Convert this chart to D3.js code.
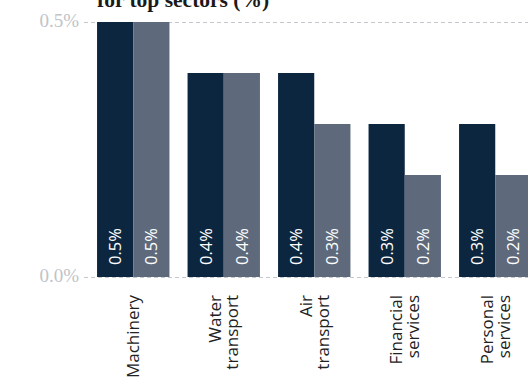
<!DOCTYPE html>
<html><head><meta charset="utf-8">
<script src="https://cdn.jsdelivr.net/npm/d3@7"></script>
<style>
html,body{margin:0;padding:0;background:#fff;overflow:hidden}
svg{display:block}
</style></head>
<body>
<svg id="chart" width="528" height="380"></svg>
<script>
const categories = ["Machinery", "Water transport", "Air transport", "Financial services", "Personal services"];
const categoryLines = [["Machinery"], ["Water", "transport"], ["Air", "transport"], ["Financial", "services"], ["Personal", "services"]];
const seriesA = [0.5, 0.4, 0.4, 0.3, 0.3];
const seriesB = [0.5, 0.4, 0.3, 0.2, 0.2];
const seriesNames = ["A", "B"];
const yTicks = [0, 0.5];
const title = "for top sectors (%)";

const colors = {A: "#0d2640", B: "#5e6a7c"};
const svg = d3.select("#chart");

const x = d3.scaleBand().domain(categories).range([88, 540.5]).paddingInner(0.2).paddingOuter(0.1);
const xs = d3.scaleBand().domain(seriesNames).range([0, x.bandwidth()]);
const y = d3.scaleLinear().domain([0, 0.5]).range([277, 22]);

// title (partly cut at top)
svg.append("text").attr("x", 97).attr("y", 7)
  .attr("font-family", "'Liberation Serif', 'DejaVu Serif', serif")
  .attr("font-weight", "bold").attr("font-size", 21.5).attr("fill", "#1a1a1a")
  .text(title);

// gridlines
svg.append("g").selectAll("line").data(yTicks).join("line")
  .attr("x1", 84).attr("x2", 528)
  .attr("y1", d => y(d) + 0.5).attr("y2", d => y(d) + 0.5)
  .attr("stroke", "#c4c8cc").attr("stroke-width", 1).attr("stroke-dasharray", "4,3");

svg.append("g").selectAll("text").data(yTicks).join("text")
  .attr("x", 79).attr("y", d => y(d) + 5)
  .attr("text-anchor", "end")
  .attr("font-family", "'Liberation Serif', 'DejaVu Serif', serif")
  .attr("font-size", 19).attr("fill", "#c0c4c8")
  .text(d => d3.format(".1f")(d) + "%");

// bars
const rows = categories.map((c, i) => ({c, vals: [{s: "A", v: seriesA[i]}, {s: "B", v: seriesB[i]}]}));
const g = svg.append("g").selectAll("g").data(rows).join("g")
  .attr("transform", d => `translate(${x(d.c)},0)`);

g.selectAll("rect").data(d => d.vals).join("rect")
  .attr("x", d => xs(d.s)).attr("width", xs.bandwidth())
  .attr("y", d => y(d.v)).attr("height", d => y(0) - y(d.v))
  .attr("fill", d => colors[d.s]);

g.selectAll("text.val").data(d => d.vals).join("text").attr("class", "val")
  .attr("transform", d => `translate(${xs(d.s) + xs.bandwidth() / 2 + 6},${y(0) - 12}) rotate(-90)`)
  .attr("font-family", "'Open Sans', sans-serif").attr("font-size", 16.5).attr("fill", "#fff")
  .text(d => d3.format(".1f")(d.v) + "%");

// x labels
const lab = svg.append("g").selectAll("text").data(categories).join("text")
  .attr("transform", d => `translate(${x(d) + x.bandwidth() / 2},295) rotate(-90)`)
  .attr("text-anchor", "end")
  .attr("font-family", "'Open Sans', sans-serif").attr("font-size", 17).attr("fill", "#222");
lab.each(function(d, i) {
  const lines = categoryLines[i];
  const t = d3.select(this);
  lines.forEach((l, j) => {
    t.append("tspan").attr("x", 0).attr("y", 6 + (j - (lines.length - 1) / 2) * 17).text(l);
  });
});
</script>
</body></html>
